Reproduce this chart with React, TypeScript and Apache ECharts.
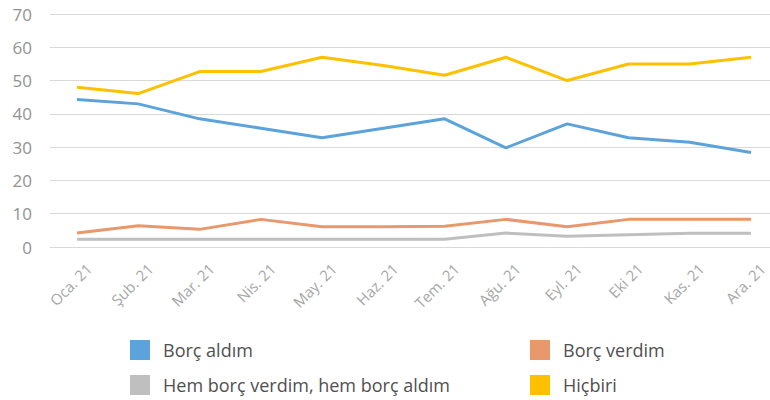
import React, { useEffect, useRef } from "react";
import * as echarts from "echarts";

const categories = ["Oca. 21", "Şub. 21", "Mar. 21", "Nis. 21", "May. 21", "Haz. 21", "Tem. 21", "Ağu. 21", "Eyl. 21", "Eki 21", "Kas. 21", "Ara. 21"];
const borcAldim = [44.3, 43.0, 38.5, 35.7, 32.8, 35.7, 38.5, 29.8, 37.0, 32.8, 31.5, 28.4];
const borcVerdim = [4.2, 6.4, 5.3, 8.3, 6.1, 6.1, 6.2, 8.3, 6.1, 8.3, 8.3, 8.3];
const hemIkisi = [2.3, 2.3, 2.3, 2.3, 2.3, 2.3, 2.3, 4.2, 3.2, 3.7, 4.1, 4.1];
const hicbiri = [48.0, 46.1, 52.7, 52.7, 57.0, 54.5, 51.6, 57.0, 50.0, 55.0, 55.0, 57.0];
const seriesNames = ["Borç aldım", "Borç verdim", "Hem borç verdim, hem borç aldım", "Hiçbiri"];
const colors = ["#5BA3DA", "#E8986A", "#BFBFBF", "#FFC000"];
const yMin = 0;
const yMax = 70;
const yInterval = 10;

const FONT = "Open Sans";

export default function App() {
  const ref = useRef<HTMLDivElement>(null);
  useEffect(() => {
    if (!ref.current) return;
    const chart = echarts.init(ref.current, undefined, { renderer: "svg" });
    const top = 14;
    const bottom = 153;
    const values = [borcAldim, borcVerdim, hemIkisi, hicbiri];
    const legendPos = [
      { left: 130, top: 340 },
      { left: 530, top: 340 },
      { left: 130, top: 375 },
      { left: 530, top: 375 },
    ];
    chart.setOption({
      animation: false,
      backgroundColor: "#ffffff",
      grid: [
        { left: 50, right: 0, top, bottom },
        { left: 77, right: 19, top, bottom },
        { left: 89, right: 7, top, bottom },
      ],
      xAxis: [
        { gridIndex: 0, type: "category", data: categories, show: false },
        { gridIndex: 1, type: "category", data: categories, boundaryGap: false, show: false },
        {
          gridIndex: 2,
          type: "category",
          data: categories,
          boundaryGap: false,
          axisLine: { show: false },
          axisTick: { show: false },
          axisLabel: {
            rotate: 45,
            interval: 0,
            margin: 19,
            color: "#A6A6A6",
            fontSize: 15,
            fontFamily: FONT,
          },
        },
      ],
      yAxis: [
        {
          gridIndex: 0,
          type: "value",
          min: yMin,
          max: yMax,
          interval: yInterval,
          axisLine: { show: false },
          axisTick: { show: false },
          axisLabel: { margin: 18, color: "#929292", fontSize: 17, fontFamily: FONT },
          splitLine: { lineStyle: { color: "#D9D9D9", width: 1 } },
        },
        { gridIndex: 1, type: "value", min: yMin, max: yMax, interval: yInterval, show: false, splitLine: { show: false } },
        { gridIndex: 2, type: "value", min: yMin, max: yMax, interval: yInterval, show: false, splitLine: { show: false } },
      ],
      legend: seriesNames.map((name, i) => ({
        ...legendPos[i],
        orient: "horizontal",
        icon: "rect",
        itemWidth: 20,
        itemHeight: 20,
        padding: 0,
        data: [name],
        textStyle: { color: "#505050", fontSize: 18, fontFamily: FONT, padding: [0, 0, 0, 8] },
      })),
      series: seriesNames.map((name, i) => ({
        name,
        type: "line",
        xAxisIndex: 1,
        yAxisIndex: 1,
        data: values[i],
        symbol: "none",
        color: colors[i],
        lineStyle: { color: colors[i], width: 3 },
        itemStyle: { color: colors[i] },
        z: i === 2 ? 1 : 2,
      })),
    });
    return () => chart.dispose();
  }, []);
  return <div ref={ref} style={{ position: "fixed", left: 0, top: 0, width: 770, height: 400 }} />;
}
